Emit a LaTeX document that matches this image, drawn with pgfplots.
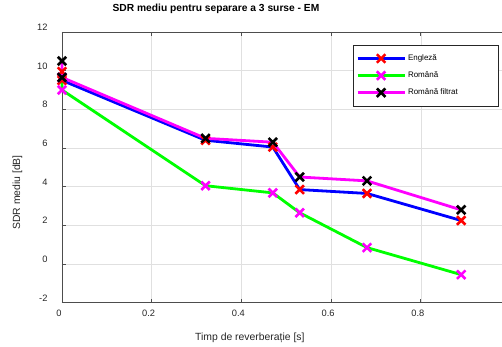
\documentclass[border=0pt]{standalone}
\usepackage{fontspec}
\setmainfont{Liberation Sans}
\usepackage{pgfplots}
\pgfplotsset{compat=1.18}
\usetikzlibrary{calc}
\definecolor{axgray}{HTML}{4D4D4D}
\definecolor{txtgray}{HTML}{262626}
\definecolor{gridgray}{HTML}{E0E0E0}
\definecolor{mblue}{HTML}{0000FF}
\definecolor{mgreen}{HTML}{00FF00}
\definecolor{mmag}{HTML}{FF00FF}
\definecolor{mred}{HTML}{FF0000}
\begin{document}
\begin{tikzpicture}
\begin{axis}[
  scale only axis, width=440pt, height=270.7pt,
  xmin=0, xmax=0.981, ymin=-2, ymax=12,
  xtick={0,0.2,0.4,0.6,0.8}, ytick={-2,0,2,4,6,8,10,12},
  xticklabels={0,0.2,0.4,0.6,0.8},
  axis x line=box, axis y line*=left,
  y axis line style={-},
  axis line style={axgray, line width=0.8pt},
  tick style={axgray, line width=0.8pt},
  major tick length=4pt, tick align=inside,
  xtick pos=both,
  grid=major, major grid style={gridgray, line width=0.6pt},
  /pgf/number format/assume math mode=true,
  tick label style={font=\fontsize{9.3}{10}\selectfont, text=txtgray},
  yticklabel style={xshift=-11pt, yshift=4.7pt},
  xticklabel style={xshift=-3pt, yshift=-3.5pt},
  title={\textbf{SDR mediu pentru separare a 3 surse - EM}},
  title style={at={(rel axis cs:0.35,1.0646)}, anchor=center, font=\fontsize{10.25}{12}\selectfont},
  xlabel={Timp de reverberație [s]},
  ylabel={SDR mediu [dB]},
  every axis x label/.style={at={(rel axis cs:0.427,-0.130)}, anchor=center, font=\fontsize{10.4}{12}\selectfont, text=txtgray},
  every axis y label/.style={at={(rel axis cs:-0.101,0.407)}, anchor=center, rotate=90, font=\fontsize{10.4}{12}\selectfont, text=txtgray},
  clip=false,
  legend image code/.code={\draw[mark repeat=2,mark phase=2,#1] plot coordinates {(0pt,0pt) (23.5pt,0pt) (47pt,0pt)};},
  legend style={at={(rel axis cs:0.9916,0.952)}, anchor=north east, draw=black!85, line width=0.6pt,
    font=\fontsize{8}{10}\selectfont, row sep=5.7pt, inner xsep=3pt, inner ysep=7.5pt},
  legend cell align=left,
]
\addplot[mblue, line width=2.8pt, mark=x, mark size=6pt, mark options={mred, line width=2.6pt}]
  coordinates {(0,9.95) (0,9.5) (0.32,6.4) (0.47,6.05) (0.53,3.85) (0.68,3.65) (0.89,2.25)};
\addlegendentry{\makebox[85pt][l]{Engleză}}
\addplot[mgreen, line width=2.8pt, mark=x, mark size=6pt, mark options={mmag, line width=2.6pt}]
  coordinates {(0,9.65) (0,9.0) (0.32,4.05) (0.47,3.68) (0.53,2.65) (0.68,0.85) (0.89,-0.55)};
\addlegendentry{\makebox[85pt][l]{Română}}
\addplot[mmag, line width=2.8pt, mark=x, mark size=6pt, mark options={black, line width=2.6pt}]
  coordinates {(0,10.5) (0,9.65) (0.32,6.5) (0.47,6.3) (0.53,4.5) (0.68,4.3) (0.89,2.8)};
\addlegendentry{\makebox[85pt][l]{Română filtrat}}
\end{axis}
\pgfresetboundingbox
\path ($(current axis.south west)+(-62pt,-44.3pt)$) rectangle ($(current axis.north east)+(0pt,32pt)$);
\end{tikzpicture}
\end{document}
